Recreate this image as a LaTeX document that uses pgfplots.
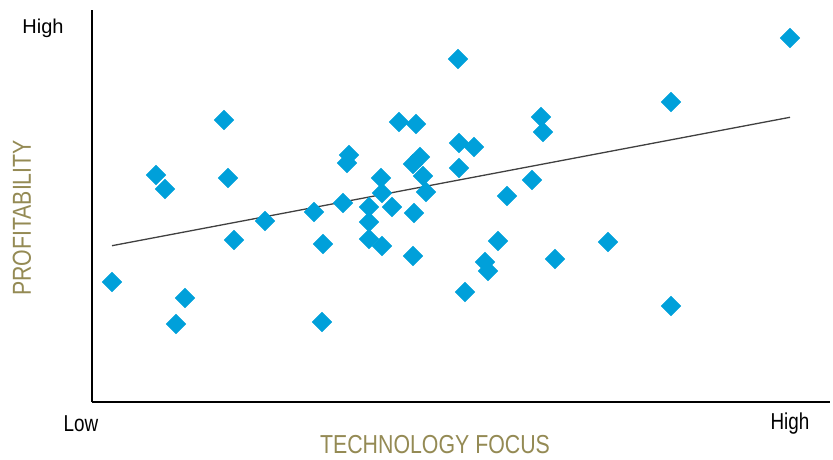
\documentclass[border=0pt]{standalone}
\usepackage{pgfplots}
\pgfplotsset{compat=1.18}
\usepackage{fontspec}
\setmainfont{Liberation Sans}
\newfontfamily\narrow{Liberation Sans}[FakeStretch=0.82]
\definecolor{ptblue}{RGB}{0,160,218}
\definecolor{olivetxt}{RGB}{148,138,84}
\definecolor{trend}{RGB}{64,64,64}
\pgfplotstableread{
x y
112 120
156 227
165 213
176 78
185 104
224 282
228 224
234 162
265 181
314 190
322 80
323 158
343 199
347 239
349 247
369 195
369 180
369 163
381 224
382 209
382 156
392 195
399 280
413 146
414 189
416 278
413 238
420 245
423 226
426 210
458 343
459 259
459 234
465 110
474 255
485 140
488 131
498 161
507 206
532 222
541 285
543 270
555 143
608 160
671 300
671 96
790 364
}\pts
\begin{document}
\begin{tikzpicture}
\begin{axis}[
  scale only axis, width=738bp, height=392bp,
  xmin=92, xmax=830, ymin=0, ymax=392,
  axis x line=bottom, axis y line=left,
  x axis line style={-, black, line width=1.6bp},
  y axis line style={-, black, line width=1.2bp},
  xtick=\empty, ytick=\empty,
  clip=false,
]
\path (axis cs:0,-58) rectangle (axis cs:833,402);
\addplot[trend, line width=1.3bp] coordinates {(112,156.3) (790,284.7)};
\addplot[ptblue, only marks, mark=square*, mark size=7bp, mark options={rotate=45, line width=0.3bp}] table[x=x,y=y] {\pts};
\node[font=\fontsize{20bp}{24bp}\selectfont] at (axis cs:43,374) {High};
\node[font=\narrow\fontsize{23bp}{26bp}\selectfont] at (axis cs:81,-22) {Low};
\node[font=\narrow\fontsize{23bp}{26bp}\selectfont] at (axis cs:790,-22) {High};
\node[font=\narrow\fontsize{26bp}{30bp}\selectfont, text=olivetxt, rotate=90] at (axis cs:22,184) {PROFITABILITY};
\node[font=\narrow\fontsize{26bp}{30bp}\selectfont, text=olivetxt] at (axis cs:435,-43) {TECHNOLOGY FOCUS};
\end{axis}
\end{tikzpicture}
\end{document}
